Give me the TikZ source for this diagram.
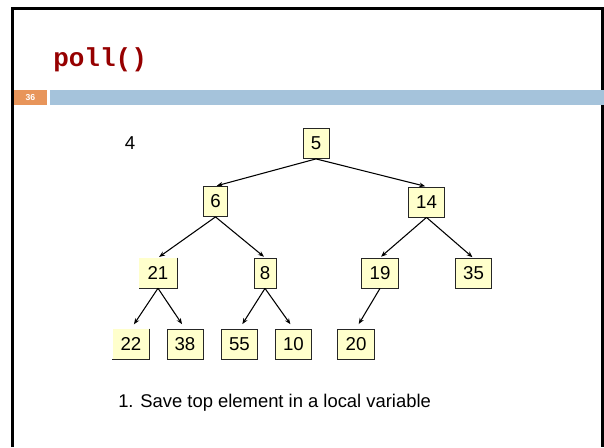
\documentclass[tikz,border=0pt]{standalone}
\usepackage{fontspec}
\setmainfont{Liberation Sans}
\newfontfamily\titlefont{Liberation Mono}
\usetikzlibrary{arrows.meta}
\definecolor{titlered}{RGB}{150,0,0}
\definecolor{barorange}{RGB}{232,149,90}
\definecolor{barblue}{RGB}{165,195,219}
\definecolor{nodefill}{RGB}{255,255,204}
\tikzset{
  heapbox/.style={draw=black!85, line width=0.6pt, fill=nodefill, minimum height=22.5pt, inner sep=0pt, font=\fontsize{14}{16}\selectfont},
  openbox/.style={fill=nodefill, minimum height=22.5pt, inner sep=0pt, font=\fontsize{14}{16}\selectfont},
  edge/.style={-{Stealth[length=4.5pt,width=3.5pt]}, line width=0.8pt, shorten >=1pt}
}
\begin{document}
\begin{tikzpicture}[x=0.75pt,y=-0.75pt]
\useasboundingbox (0,0) rectangle (604,447);
\fill[white] (0,0) rectangle (604,447);
% frame
\draw[line width=1.6pt] (12.5,447) -- (12.5,8.5) -- (602.5,8.5) -- (602.5,447);
% title
\node[anchor=base west, inner sep=0pt, text=titlered, font=\titlefont\bfseries\fontsize{19.5}{22}\selectfont] (title) at (53,66) {poll()};
% bar
\fill[barorange] (14,90) rectangle (47,105);
\fill[barblue] (50,90) rectangle (604,105);
\node[text=white, font=\bfseries\fontsize{6.5}{7}\selectfont] (pg) at (30.5,97.5) {36};
% stray value
\node[font=\fontsize{14}{16}\selectfont] (four) at (130,143.5) {4};
% nodes
\node[heapbox, minimum width=19.5pt] (n5) at (316,143.5) {5};
\node[heapbox, minimum width=18.5pt] (n6) at (215.5,201.5) {6};
\node[heapbox, minimum width=27.5pt] (n14) at (426.5,202) {14};
\node[openbox, minimum width=28pt] (n21) at (158,273) {21};
\node[heapbox, minimum width=16.5pt] (n8) at (265,273) {8};
\node[heapbox, minimum width=28pt] (n19) at (380,273) {19};
\node[heapbox, minimum width=27.5pt] (n35) at (473.5,273.5) {35};
\node[openbox, minimum width=27.5pt] (n22) at (131,344) {22};
\node[heapbox, minimum width=27pt] (n38) at (185,344) {38};
\node[heapbox, minimum width=27.5pt] (n55) at (239.5,344) {55};
\node[heapbox, minimum width=27.5pt] (n10) at (293.5,344) {10};
\node[heapbox, minimum width=28pt] (n20) at (356,344) {20};
\draw[black!85, line width=0.6pt] (n21.north east) -- (n21.south east) -- (n21.south west);
\draw[black!85, line width=0.6pt] (n22.north east) -- (n22.south east) -- (n22.south west);
% edges
\draw[edge] (n5.south) -- (n6.north);
\draw[edge] (n5.south) -- (n14.north);
\draw[edge] (n6.south) -- (n21.north);
\draw[edge] (n6.south) -- (n8.north);
\draw[edge] (n14.south) -- (n19.north);
\draw[edge] (n14.south) -- (n35.north);
\draw[edge, shorten >=4pt] (n21.south) -- (n22.north);
\draw[edge, shorten >=4pt] (n21.south) -- (n38.north);
\draw[edge, shorten >=4pt] (n8.south) -- (n55.north);
\draw[edge, shorten >=4pt] (n8.south) -- (n10.north);
\draw[edge, shorten >=4pt] (n19.south) -- (n20.north);
% caption
\node[anchor=base west, inner sep=0pt, font=\fontsize{13.8}{16}\selectfont] (cap) at (118,407) {1. Save top element in a local variable};
\end{tikzpicture}
\end{document}
